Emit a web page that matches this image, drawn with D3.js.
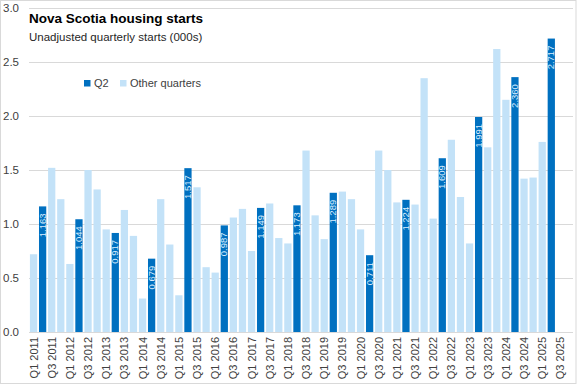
<!DOCTYPE html>
<html lang="en">
<head>
<meta charset="utf-8">
<title>Nova Scotia housing starts</title>
<script src="https://cdn.jsdelivr.net/npm/d3@7"></script>
<style>
    body { margin: 0; background: #fff; }
    svg { display: block; font-family: "Liberation Sans", Arial, sans-serif; }
</style>
</head>
<body>
<div id="chart"></div>
<script>
    // quarterly housing starts, thousands (Q3/Q4 2025 not yet released)
    const years = [2011, 2012, 2013, 2014, 2015, 2016, 2017, 2018, 2019, 2020, 2021, 2022, 2023, 2024, 2025];
    const quarters = ['Q1', 'Q2', 'Q3', 'Q4'];
    const starts = [
        0.72, 1.163, 1.52, 1.23,
        0.63, 1.044, 1.50, 1.32,
        0.95, 0.917, 1.13, 0.89,
        0.31, 0.679, 1.23, 0.81,
        0.34, 1.517, 1.34, 0.60,
        0.55, 0.987, 1.06, 1.14,
        0.75, 1.149, 1.19, 0.87,
        0.82, 1.173, 1.68, 1.08,
        0.86, 1.289, 1.30, 1.23,
        0.95, 0.711, 1.68, 1.50,
        1.20, 1.224, 1.18, 2.35,
        1.05, 1.609, 1.78, 1.25,
        0.82, 1.991, 1.71, 2.62,
        2.15, 2.360, 1.42, 1.43,
        1.76, 2.717, null, null
    ];
    const yTicks = [0, 0.5, 1, 1.5, 2, 2.5, 3];
    const legendItems = ['Q2', 'Other quarters'];

    (() => {
        const width = 577, height = 385;
        const left = 29, right = 574, top = 8, bottom = 332;
        const dark = '#0070c0', light = '#c3e2f8';

        const categories = [];
        years.forEach(y => quarters.forEach(q => categories.push(`${q} ${y}`)));
        const data = categories.map((c, i) => ({cat: c, q: quarters[i % 4], value: starts[i]}));

        const svg = d3.select('#chart').append('svg')
            .attr('width', width).attr('height', height);

        svg.append('rect')
            .attr('x', 0.5).attr('y', 0.5)
            .attr('width', width - 1.5).attr('height', height - 2)
            .attr('fill', '#fff').attr('stroke', '#d9d9d9');

        const x = d3.scaleBand().domain(categories).range([left, right]).paddingInner(0.2).paddingOuter(0.1);
        const y = d3.scaleLinear().domain([0, 3]).range([bottom, top]);

        // gridlines
        svg.append('g')
            .selectAll('line')
            .data(yTicks)
            .enter()
            .append('line')
            .attr('x1', left).attr('x2', right - 1)
            .attr('y1', d => Math.round(y(d)) + 0.5).attr('y2', d => Math.round(y(d)) + 0.5)
            .attr('stroke', '#d9d9d9');

        svg.append('g')
            .selectAll('text')
            .data(yTicks)
            .enter()
            .append('text')
            .attr('x', 3).attr('y', d => y(d) + 4)
            .attr('font-size', 11.5).attr('fill', '#404040')
            .text(d => d3.format('.1f')(d));

        // bars
        const bars = data.filter(d => d.value !== null);
        svg.append('g')
            .selectAll('rect')
            .data(bars)
            .enter()
            .append('rect')
            .attr('x', d => x(d.cat))
            .attr('width', x.bandwidth())
            .attr('y', d => y(d.value))
            .attr('height', d => y(0) - y(d.value))
            .attr('fill', d => d.q === 'Q2' ? dark : light);

        // value labels on Q2 bars
        svg.append('g')
            .selectAll('text')
            .data(bars.filter(d => d.q === 'Q2'))
            .enter()
            .append('text')
            .attr('transform', d => `translate(${x(d.cat) + x.bandwidth() / 2 + 3.2},${y(d.value) + 7}) rotate(-90)`)
            .attr('text-anchor', 'end')
            .attr('font-size', 9.5)
            .attr('fill', '#dcefff')
            .text(d => d3.format('.3f')(d.value));

        // baseline
        svg.append('line')
            .attr('x1', left).attr('x2', right - 1)
            .attr('y1', bottom + 0.5).attr('y2', bottom + 0.5)
            .attr('stroke', '#d9d9d9');

        // x labels, every other quarter
        svg.append('g')
            .selectAll('text')
            .data(categories.filter((c, i) => i % 2 === 0))
            .enter()
            .append('text')
            .attr('transform', d => `translate(${x(d) + x.bandwidth() / 2 + 4},${bottom + 5}) rotate(-90)`)
            .attr('text-anchor', 'end')
            .attr('font-size', 11)
            .attr('fill', '#404040')
            .text(d => d);

        // titles
        svg.append('text')
            .attr('x', 29).attr('y', 23)
            .attr('font-size', 13.5).attr('font-weight', 'bold').attr('fill', '#000')
            .attr('textLength', 174).attr('lengthAdjust', 'spacingAndGlyphs')
            .text('Nova Scotia housing starts');
        svg.append('text')
            .attr('x', 29).attr('y', 41)
            .attr('font-size', 11.5).attr('fill', '#262626')
            .text('Unadjusted quarterly starts (000s)');

        // legend
        const legend = svg.append('g')
            .selectAll('g')
            .data(legendItems)
            .enter()
            .append('g')
            .attr('transform', (d, i) => `translate(${i === 0 ? 84 : 120},80)`);
        legend.append('rect')
            .attr('width', 6.5).attr('height', 6.5)
            .attr('fill', (d, i) => i === 0 ? dark : light);
        legend.append('text')
            .attr('x', 10).attr('y', 7)
            .attr('font-size', 11).attr('fill', '#404040')
            .text(d => d);
    })();
</script>
</body>
</html>
